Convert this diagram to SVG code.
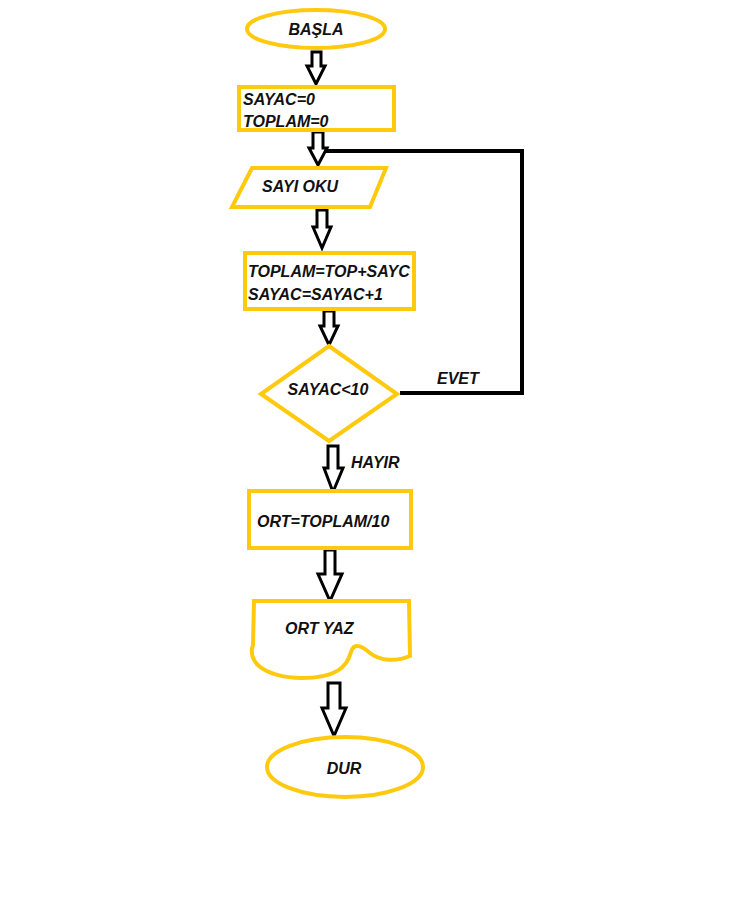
<svg xmlns="http://www.w3.org/2000/svg" width="737" height="919" viewBox="0 0 737 919">
  <style>
    .shape { fill: #ffffff; stroke: #FFC90E; stroke-width: 4; stroke-linejoin: miter; }
    .lbl { font-family: "Liberation Sans", Arial, sans-serif; font-weight: bold; font-style: italic; font-size: 16px; fill: #111111; }
    .arr { fill: #ffffff; stroke: #000000; stroke-width: 3; stroke-linejoin: miter; }
    .line { fill: none; stroke: #000000; stroke-width: 4; }
  </style>
  <rect width="737" height="919" fill="#ffffff"/>

  <!-- connectors: hollow block arrows and the loop-back line -->
  <g id="connectors">
    <path class="arr" d="M312,52 H321 V66 H325 L316,84 L307,66 H312 Z"/>
    <path class="arr" d="M313,132 H323 V148 H327 L318,165 L309,148 H313 Z"/>
    <path class="arr" d="M317,210 H327 V227 H331 L322,248 L313,227 H317 Z"/>
    <path class="arr" d="M324,311 H334 V326 H338 L329,345 L320,326 H324 Z"/>
    <path class="arr" d="M328,446 H338 V468 H343 L333,492 L324,468 H328 Z"/>
    <path class="arr" d="M325,550 H335 V574 H342 L330,601 L318,574 H325 Z"/>
    <path class="arr" d="M328,683 H340 V708 H346 L334,736 L322,708 H328 Z"/>
    <polyline class="line" points="400,393 522,393 522,151 326,151"/>
  </g>

  <g id="start">
    <ellipse class="shape" cx="316" cy="29" rx="69" ry="19"/>
    <text class="lbl" x="316" y="35" text-anchor="middle">BAŞLA</text>
  </g>

  <g id="init">
    <rect class="shape" x="239" y="87" width="155" height="43"/>
    <text class="lbl" x="243" y="105">SAYAC=0</text>
    <text class="lbl" x="243" y="127">TOPLAM=0</text>
  </g>

  <g id="read">
    <polygon class="shape" points="252,168 386,168 370,207 232,207"/>
    <text class="lbl" x="262" y="192">SAYI OKU</text>
  </g>

  <g id="accumulate">
    <rect class="shape" x="245" y="253" width="169" height="56"/>
    <text class="lbl" x="248" y="277">TOPLAM=TOP+SAYC</text>
    <text class="lbl" x="248" y="300">SAYAC=SAYAC+1</text>
  </g>

  <g id="decision">
    <polygon class="shape" points="329,346 397,394 329,441 261,394"/>
    <text class="lbl" x="328" y="395" text-anchor="middle">SAYAC&lt;10</text>
    <text class="lbl" x="437" y="384">EVET</text>
    <text class="lbl" x="351" y="468">HAYIR</text>
  </g>

  <g id="average">
    <rect class="shape" x="249" y="491" width="162" height="57"/>
    <text class="lbl" x="257" y="527">ORT=TOPLAM/10</text>
  </g>

  <g id="output">
    <path class="shape" d="M254,601 L409,601 L410,656 C396,662 380,661 370,653 C362,646 354,642 351,652 C347,667 336,678 302,678 C283,678 267,673 259,666 C253,661 250,653 253,645 Z"/>
    <text class="lbl" x="285" y="634">ORT YAZ</text>
  </g>

  <g id="end">
    <ellipse class="shape" cx="345" cy="767" rx="78" ry="30"/>
    <text class="lbl" x="344" y="774" text-anchor="middle">DUR</text>
  </g>
</svg>
